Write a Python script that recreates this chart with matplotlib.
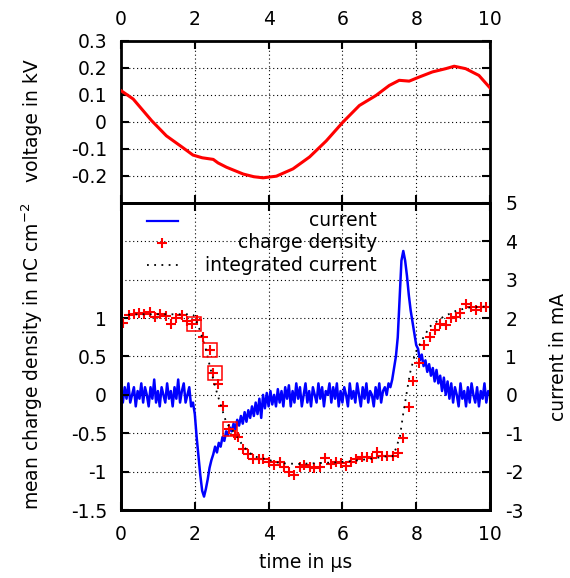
import numpy as np
import matplotlib
matplotlib.use("Agg")
import matplotlib.pyplot as plt
from matplotlib.ticker import FuncFormatter

plt.rcParams["font.family"] = ["DejaVu Sans"]
plt.rcParams["font.size"] = 13.5
plt.rcParams["axes.unicode_minus"] = False
plt.rcParams["mathtext.default"] = "regular"

# --- tension (panneau du haut) ---
volt_t = [0, 0.33, 0.83, 1.23, 1.68, 1.95, 2.2, 2.5, 2.63, 2.86, 3.31, 3.6,
          3.85, 4.21, 4.66, 5.11, 5.56, 6.01, 6.46, 6.91, 7.27, 7.54, 7.81,
          8.08, 8.44, 8.8, 9.03, 9.34, 9.7, 10]
volt_kv = [0.115, 0.084, 0.004, -0.052, -0.096, -0.123, -0.133, -0.139, -0.152,
           -0.168, -0.193, -0.203, -0.207, -0.201, -0.174, -0.130, -0.071,
           -0.002, 0.060, 0.097, 0.134, 0.153, 0.150, 0.165, 0.184, 0.196,
           0.205, 0.196, 0.171, 0.125]

# --- courant mesuré (mA), échantillonné tous les 0.05 µs ---
cur_t = np.linspace(0, 10, 201)
cur_ma = [
    # 0.00 - 1.95
    0.1, -0.2, 0.2, -0.1, 0.3, -0.2, 0.0, 0.2, -0.3, 0.1,
    -0.1, 0.3, -0.2, 0.2, 0.0, -0.3, 0.2, -0.1, 0.4, -0.2,
    0.1, -0.3, 0.2, 0.0, -0.2, 0.3, -0.1, 0.1, -0.3, 0.2,
    -0.1, 0.4, -0.2, 0.1, 0.3, -0.2, 0.0, 0.2, -0.3, -0.2,
    # 2.00 - 3.95
    -0.5, -1.1, -1.6, -2.1, -2.5, -2.65, -2.45, -2.2, -1.9, -1.7,
    -1.55, -1.35, -1.5, -1.25, -1.35, -1.1, -1.2, -0.95, -1.05, -0.85,
    -0.95, -0.75, -0.9, -0.65, -0.8, -0.55, -0.75, -0.45, -0.7, -0.4,
    -0.6, -0.3, -0.55, -0.2, -0.5, -0.1, -0.6, 0.0, -0.35, 0.05,
    # 4.00 - 7.25
    -0.3, 0.1, -0.25, 0.0, -0.3, 0.15, -0.2, 0.1, -0.3, 0.2,
    -0.1, 0.25, -0.3, 0.1, -0.2, 0.3, -0.1, 0.2, -0.3, 0.0,
    0.3, -0.2, 0.1, -0.3, 0.2, 0.0, -0.2, 0.3, -0.1, 0.2,
    -0.3, 0.1, 0.0, 0.3, -0.2, 0.2, -0.1, 0.3, -0.3, 0.1,
    -0.2, 0.2, 0.0, -0.3, 0.3, -0.1, 0.1, -0.2, 0.3, 0.0,
    -0.3, 0.2, -0.1, 0.3, -0.2, 0.1, 0.0, -0.3, 0.2, -0.1,
    0.3, -0.2, 0.1, 0.2, 0.0, 0.3,
    # 7.30 - 8.95
    0.2, 0.4, 0.7, 1.0, 1.5, 2.5, 3.5, 3.75, 3.5, 3.1,
    2.6, 2.2, 1.9, 1.6, 1.3, 1.2, 0.9, 1.05, 0.75, 0.9,
    0.6, 0.8, 0.5, 0.7, 0.35, 0.65, 0.3, 0.5, 0.1, 0.45,
    0.0, 0.35, -0.1, 0.3,
    # 9.00 - 10.00
    -0.2, 0.2, 0.0, -0.3, 0.3, -0.1, 0.1, -0.3, 0.2, -0.2,
    0.3, 0.0, -0.2, 0.2, -0.3, 0.1, -0.1, 0.3, -0.2, 0.1, 0.0,
]

# --- densité de charge mesurée (nC cm^-2) ---
cd_t = [0.06, 0.23, 0.36, 0.5, 0.63, 0.78, 0.92, 1.05, 1.21, 1.35, 1.49, 1.64,
        1.78, 1.92, 2.05, 2.21, 2.41, 2.5, 2.64, 2.76, 2.94, 3.09, 3.17, 3.3,
        3.44, 3.59, 3.74, 3.86, 4.01, 4.15, 4.3, 4.41, 4.55, 4.7, 4.84, 4.97,
        5.11, 5.24, 5.38, 5.54, 5.68, 5.83, 5.96, 6.1, 6.23, 6.37, 6.53, 6.67,
        6.8, 6.94, 7.07, 7.21, 7.36, 7.5, 7.63, 7.81, 7.92, 8.08, 8.22, 8.37,
        8.51, 8.64, 8.8, 8.93, 9.07, 9.2, 9.34, 9.48, 9.62, 9.75, 9.88]
cd = [0.94, 1.04, 1.06, 1.07, 1.06, 1.08, 1.01, 1.05, 1.03, 0.92, 1.0, 1.04,
      0.96, 0.92, 0.97, 0.76, 0.58, 0.29, 0.14, -0.14, -0.45, -0.52, -0.55,
      -0.71, -0.77, -0.84, -0.83, -0.84, -0.87, -0.92, -0.87, -0.94, -1.0,
      -1.04, -0.94, -0.91, -0.94, -0.95, -0.94, -0.82, -0.9, -0.87, -0.89,
      -0.93, -0.87, -0.83, -0.81, -0.81, -0.82, -0.75, -0.79, -0.8, -0.8,
      -0.76, -0.56, -0.16, 0.18, 0.41, 0.65, 0.75, 0.84, 0.92, 0.91, 1.0,
      1.02, 1.07, 1.18, 1.14, 1.11, 1.15, 1.15]

# points mis en évidence (carrés)
sq_t = [1.98, 2.40, 2.55, 2.95]
sq_cd = [0.92, 0.58, 0.29, -0.45]

# --- courant intégré ---
integ_t = [0, 0.5, 1.0, 1.5, 1.9, 1.96, 2.05, 2.14, 2.28, 2.41, 2.55, 2.68,
           2.86, 3.09, 3.31, 3.59, 3.95, 4.31, 4.8, 5.3, 5.8, 6.3, 6.8, 7.2,
           7.36, 7.45, 7.56, 7.65, 7.74, 7.83, 7.97, 8.15, 8.37, 8.74, 9.1,
           9.46, 9.82, 10]
integ = [1.04, 1.05, 1.05, 1.05, 1.05, 1.04, 0.95, 0.84, 0.63, 0.37, 0.11,
         -0.1, -0.37, -0.5, -0.67, -0.8, -0.84, -0.89, -0.9, -0.89, -0.88,
         -0.86, -0.83, -0.8, -0.8, -0.7, -0.54, -0.24, 0.02, 0.28, 0.54, 0.71,
         0.89, 1.02, 1.1, 1.14, 1.15, 1.15]

x_ticks = [0, 2, 4, 6, 8, 10]
volt_ticks = [-0.2, -0.1, 0, 0.1, 0.2, 0.3]
cd_ticks = [-1.5, -1, -0.5, 0, 0.5, 1]
cur_ticks = [-3, -2, -1, 0, 1, 2, 3, 4, 5]

fmt = FuncFormatter(lambda v, pos: "%g" % round(v, 6))
grid_kw = dict(color="black", linestyle=(0, (1, 2.5)), linewidth=0.8)

W, H = 570, 578
fig = plt.figure(figsize=(W / 100, H / 100), dpi=100)
left, right = 121 / W, 490 / W
ax_v = fig.add_axes([left, 1 - 203 / H, right - left, (203 - 40.5) / H])
ax = fig.add_axes([left, 1 - 510 / H, right - left, (510 - 203) / H])
ax_i = ax.twinx()

for a in (ax_v, ax, ax_i):
    for s in a.spines.values():
        s.set_linewidth(2.0)

# panneau du haut : tension
ax_v.plot(volt_t, volt_kv, color="#ff0000", lw=2.2, zorder=3)
ax_v.set_xlim(0, 10)
ax_v.set_ylim(-0.3, 0.3)
ax_v.set_xticks(x_ticks)
ax_v.set_yticks(volt_ticks)
ax_v.xaxis.set_major_formatter(fmt)
ax_v.yaxis.set_major_formatter(fmt)
ax_v.tick_params(axis="x", direction="in", length=6, width=1.5, top=True,
                 bottom=True, labeltop=True, labelbottom=False, pad=8)
ax_v.tick_params(axis="y", direction="in", length=6, width=1.5, left=True,
                 right=True, pad=10)
ax_v.grid(True, **grid_kw)

# panneau du bas : courant (axe de droite, dessous)
ax_i.set_zorder(0)
ax.set_zorder(1)
ax.patch.set_visible(False)
ax_i.patch.set_visible(True)
ax_i.patch.set_facecolor("white")
ax_i.plot(cur_t, cur_ma, color="#0000ff", lw=1.8)
ax_i.set_ylim(-3, 5)
ax_i.set_yticks(cur_ticks)
ax_i.yaxis.set_major_formatter(fmt)
ax_i.tick_params(axis="y", direction="in", length=6, width=1.5, pad=11)
ax_i.xaxis.set_visible(True)
ax_i.tick_params(axis="x", which="both", bottom=False, top=False,
                 labelbottom=False, labeltop=False)
ax_i.grid(True, **grid_kw)
ax_i.set_ylabel("current in mA")

# densité de charge + courant intégré (axe de gauche, dessus)
ax.plot(cd_t, cd, linestyle="none", marker="+", color="#ff0000", ms=7, mew=1.5)
ax.plot(integ_t, integ, color="black", lw=1.3, linestyle=(0, (1, 3)))
ax.plot(sq_t, sq_cd, linestyle="none", marker="s", ms=9.5, mfc="none",
        mec="#ff0000", mew=1.1)
ax.set_xlim(0, 10)
ax.set_ylim(-1.5, 2.5)
ax.set_xticks(x_ticks)
ax.set_yticks(cd_ticks)
ax.xaxis.set_major_formatter(fmt)
ax.yaxis.set_major_formatter(fmt)
ax.tick_params(axis="x", direction="in", length=6, width=1.5, top=True,
               bottom=True, pad=11)
ax.tick_params(axis="y", direction="in", length=6, width=1.5, left=True,
               right=False, pad=10)

# légende façon gnuplot : échantillon à gauche, texte aligné à droite
tr = ax.transAxes
rows = [0.942, 0.871, 0.798]
ax.plot([0.0705, 0.154], [rows[0]] * 2, color="#0000ff", lw=1.6, transform=tr)
ax.plot([0.112], [rows[1]], marker="+", color="#ff0000", ms=7, mew=1.5,
        transform=tr)
ax.plot([0.0705, 0.154], [rows[2]] * 2, color="black", lw=1.3,
        linestyle=(0, (1, 3)), transform=tr)
for y, label in zip(rows, ["current", "charge density", "integrated current"]):
    ax.text(0.694, y, label, transform=tr, ha="right", va="center")

# libellés des axes
fig.text(32 / W, 1 - 121 / H, "voltage in kV", rotation=90, ha="center",
         va="center")
fig.text(32 / W, 1 - 356 / H, "mean charge density in nC cm$^{-2}$",
         rotation=90, ha="center", va="center")
ax_i.yaxis.set_label_coords((558 - 121) / 369, 0.5)
ax_i.yaxis.label.set_va("center")
fig.text((121 + 490) / 2 / W, 1 - 562 / H, "time in \u00b5s", ha="center",
         va="center")

fig.savefig("out.png", dpi=100)
